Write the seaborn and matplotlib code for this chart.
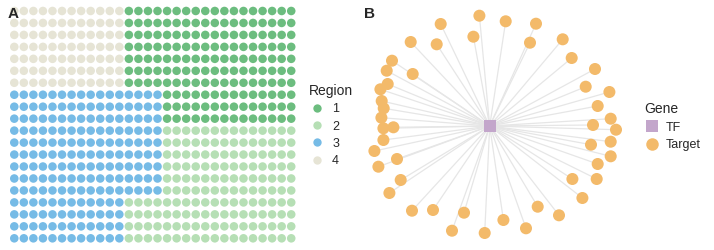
import numpy as np
import pandas as pd
import matplotlib
matplotlib.use("Agg")
import matplotlib.pyplot as plt
import seaborn as sns

sns.set_theme(style="white")
plt.rcParams['font.family'] = ['Liberation Sans', 'DejaVu Sans']

# Panel A: spatial grid of spots, 30 columns x 20 rows, described as row bands
n_cols = 30
band_rows = [7, 3, 6, 4]
band_runs = [
    [("4", 12), ("1", 18)],
    [("3", 16), ("1", 14)],
    [("3", 16), ("2", 14)],
    [("3", 12), ("2", 18)],
]
region_order = ["1", "2", "3", "4"]
region_colors = {"1": "#6cbd7f", "2": "#b6dfb5", "3": "#76bbe6", "4": "#e6e4d5"}

# Panel B: one TF and its targets (layout positions)
target_x = [-10.3, 16, 46.3, -49, -16.3, 40.3, 73, -79, -53, 82, -97.7, -103, -77,
            105.3, -102, -109.3, 96, 119.7, -108, -106, 108, -108.3, 121, -96.3,
            -106.3, 103.3, 126.3, -106.3, 121, 101.3, -115.3, 121, -92.7, -111.3,
            108, -89, 82.7, 107, -100.3, 92.7, 48, -77.7, -56.7, -25.7, 69.3, 13.7,
            -37.7, -5, 36.3]
target_y = [110.3, 104.7, 102.3, 102, 89.3, 83.3, 86.7, 84, 81.7, 68, 65.3, 55.3, 52,
            57, 42, 36.7, 39.3, 34, 25, 17.7, 20, 8.3, 7.3, -1.3, -2.3, 1, -3.7, -14,
            -15.7, -18.7, -25, -30.3, -33, -40.7, -38, -54, -53, -53, -67, -72, -80.7,
            -84.7, -84, -86.7, -89.3, -94, -104.7, -107, -102.3]
gene_colors = {"TF": "#c3a6cb", "Target": "#f3ba6a"}

# build the grid table
rows, cols, regs = [], [], []
r0 = 0
for nr, runs in zip(band_rows, band_runs):
    for r in range(r0, r0 + nr):
        c0 = 0
        for reg, nc in runs:
            for c in range(c0, c0 + nc):
                rows.append(r)
                cols.append(c)
                regs.append(reg)
            c0 += nc
    r0 += nr
cells = pd.DataFrame({"col": cols, "row": rows, "Region": regs})
n_rows = r0

fig = plt.figure(figsize=(7.14, 2.5), dpi=100)
W, H = 714, 250

# ---- A ----
axA = fig.add_axes([9.5 / W, 5.7 / H, 286.5 / W, 239.3 / H])
sns.scatterplot(data=cells, x="col", y="row", hue="Region", hue_order=region_order,
                palette=region_colors, s=38, linewidth=0, ax=axA)
axA.set_xlim(-0.5, n_cols - 0.5)
axA.set_ylim(n_rows - 0.5, -0.5)
axA.set_axis_off()
sns.move_legend(axA, "upper left", bbox_to_anchor=(309 / W, 1 - 84 / H),
                bbox_transform=fig.transFigure, frameon=False, title="Region",
                fontsize=9, title_fontsize=10, borderpad=0, borderaxespad=0,
                handlelength=1.3, handletextpad=0.55, labelspacing=0.42,
                alignment="left")
for h in axA.get_legend().legend_handles:
    h.set_markersize(6)

# ---- B ----
axB = fig.add_axes([355 / W, 0, 270 / W, 1])
for x, y in zip(target_x, target_y):
    axB.plot([0, x], [0, y], color="#e6e6e6", lw=0.9, zorder=1)
nodes = pd.DataFrame({
    "x": [0.0] + target_x,
    "y": [0.0] + target_y,
    "Gene": ["TF"] + ["Target"] * len(target_x),
})
sns.scatterplot(data=nodes, x="x", y="y", hue="Gene", style="Gene",
                hue_order=["TF", "Target"], style_order=["TF", "Target"],
                markers={"TF": "s", "Target": "o"}, palette=gene_colors,
                s=75, linewidth=0, zorder=2, ax=axB)
axB.set_xlim(-134.7, 135.3)
axB.set_ylim(-124, 126)
axB.set_axis_off()
sns.move_legend(axB, "upper left", bbox_to_anchor=(644 / W, 1 - 102 / H),
                bbox_transform=fig.transFigure, frameon=False, title="Gene",
                fontsize=9, title_fontsize=10, borderpad=0, borderaxespad=0,
                handlelength=1.3, handletextpad=0.45, labelspacing=0.45,
                alignment="left")
for h in axB.get_legend().legend_handles:
    h.set_markersize(9)

fig.text(13 / W, 1 - 14 / H, "A", fontsize=11, fontweight="bold", ha="center", va="center")
fig.text(369 / W, 1 - 14 / H, "B", fontsize=11, fontweight="bold", ha="center", va="center")

fig.savefig("out.png", dpi=100)
